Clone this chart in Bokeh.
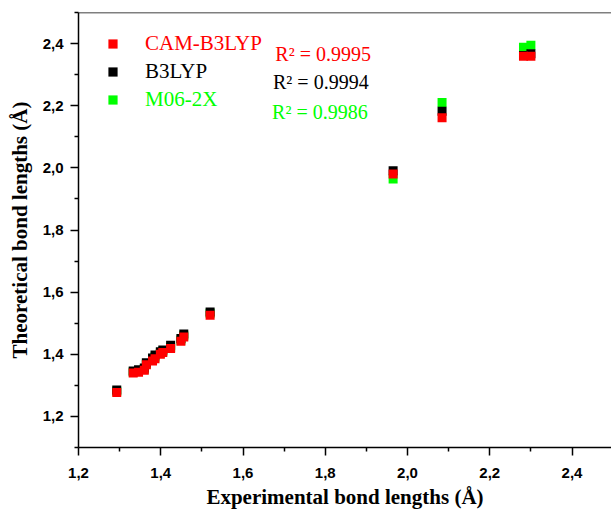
from bokeh.plotting import figure
from bokeh.models import (Range1d, FixedTicker, CustomJSTickFormatter, Legend,
                          LegendItem, Label, Span)
from bokeh.embed import file_html
from bokeh.resources import INLINE

# ---- data ----
exp_len = [1.293, 1.333, 1.346, 1.360, 1.365, 1.380, 1.386, 1.399, 1.405,
           1.424, 1.449, 1.456, 1.520, 1.965, 2.084, 2.282, 2.300]
b3lyp = [1.285, 1.346, 1.350, 1.356, 1.373, 1.388, 1.398, 1.408, 1.414,
         1.429, 1.451, 1.465, 1.536, 1.991, 2.182, 2.362, 2.367]
cam_b3lyp = [1.277, 1.340, 1.342, 1.349, 1.366, 1.378, 1.386, 1.400, 1.406,
             1.419, 1.442, 1.456, 1.526, 1.980, 2.161, 2.359, 2.359]
m06_2x = [1.281, 1.343, 1.346, 1.352, 1.369, 1.382, 1.391, 1.404, 1.410,
          1.423, 1.446, 1.460, 1.532, 1.964, 2.210, 2.388, 2.395]

series_names = ["CAM-B3LYP", "B3LYP", "M06-2X"]
series_colors = ["#FF0000", "#000000", "#00FF00"]
r2_texts = ["R\u00b2 = 0.9995", "R\u00b2 = 0.9994", "R\u00b2 = 0.9986"]

x_ticks = [1.2, 1.4, 1.6, 1.8, 2.0, 2.2, 2.4]
x_tick_labels = ["1,2", "1,4", "1,6", "1,8", "2,0", "2,2", "2,4"]
x_minor = [1.3, 1.5, 1.7, 1.9, 2.1, 2.3, 2.5]
y_ticks = [1.2, 1.4, 1.6, 1.8, 2.0, 2.2, 2.4]
y_tick_labels = ["1,2", "1,4", "1,6", "1,8", "2,0", "2,2", "2,4"]
y_minor = [1.1, 1.3, 1.5, 1.7, 1.9, 2.1, 2.3, 2.5]

p = figure(width=611, height=515, x_range=Range1d(1.2, 2.496),
           y_range=Range1d(1.1, 2.5), output_backend="svg",
           toolbar_location=None, min_border_left=78, min_border_right=0,
           min_border_top=12, min_border_bottom=68)
p.grid.visible = False
p.outline_line_color = None
p.background_fill_color = "white"
p.border_fill_color = "white"

fmt = CustomJSTickFormatter(code="return tick.toFixed(1).replace('.', ',')")
for ax, ticks, minor, labels in ((p.xaxis[0], x_ticks, x_minor, x_tick_labels),
                                 (p.yaxis[0], y_ticks, y_minor, y_tick_labels)):
    ax.ticker = FixedTicker(ticks=ticks, minor_ticks=minor)
    ax.formatter = fmt
    ax.major_label_overrides = {t: l for t, l in zip(ticks, labels)}
    ax.axis_line_width = 1.5
    ax.major_tick_line_width = 1.5
    ax.minor_tick_line_width = 1.5
    ax.major_tick_out = 8
    ax.major_tick_in = 0
    ax.minor_tick_out = 4
    ax.minor_tick_in = 0
    ax.major_label_text_font = "Liberation Sans"
    ax.major_label_text_font_style = "bold"
    ax.major_label_text_font_size = "15px"
    ax.major_label_text_color = "black"
    ax.axis_label_text_font = "Liberation Serif"
    ax.axis_label_text_font_style = "bold"
    ax.axis_label_text_font_size = "21px"
    ax.axis_label_text_color = "black"

p.xaxis.axis_label = "Experimental bond lengths (\u00c5)"
p.yaxis.axis_label = "Theoretical bond lengths (\u00c5)"
p.xaxis.major_label_standoff = 12
p.yaxis.major_label_standoff = 7
p.xaxis.axis_label_standoff = 4
p.yaxis.axis_label_standoff = 8

p.add_layout(Span(location=2.5, dimension="width", line_color="black",
                  line_width=1.5))

rM = p.scatter(exp_len, m06_2x, marker="square", size=9,
               fill_color=series_colors[2], line_color=None)
rB = p.scatter(exp_len, b3lyp, marker="square", size=9,
               fill_color=series_colors[1], line_color=None)
rC = p.scatter(exp_len, cam_b3lyp, marker="square", size=9,
               fill_color=series_colors[0], line_color=None)
renderers = [rC, rB, rM]

legend_vy = [390.7, 363.0, 335.4]
for name, col, r, vy in zip(series_names, series_colors, renderers, legend_vy):
    lg = Legend(items=[LegendItem(label=name, renderers=[r])],
                location=(23.0, vy), glyph_width=23, glyph_height=23,
                label_standoff=21, padding=0, margin=0, spacing=0,
                border_line_color=None, background_fill_alpha=0,
                label_text_font="Liberation Serif", label_text_font_size="21px",
                label_text_color=col)
    p.add_layout(lg, "center")

r2_x = [1.6786, 1.673, 1.6706]
r2_y = [2.3667, 2.2766, 2.181]
for txt, col, xx, yy in zip(r2_texts, series_colors, r2_x, r2_y):
    p.add_layout(Label(x=xx, y=yy, text=txt, text_color=col,
                       text_font="Liberation Serif", text_font_size="20px",
                       text_align="left", text_baseline="alphabetic"))

open("out.html", "w").write(file_html(p, INLINE))
